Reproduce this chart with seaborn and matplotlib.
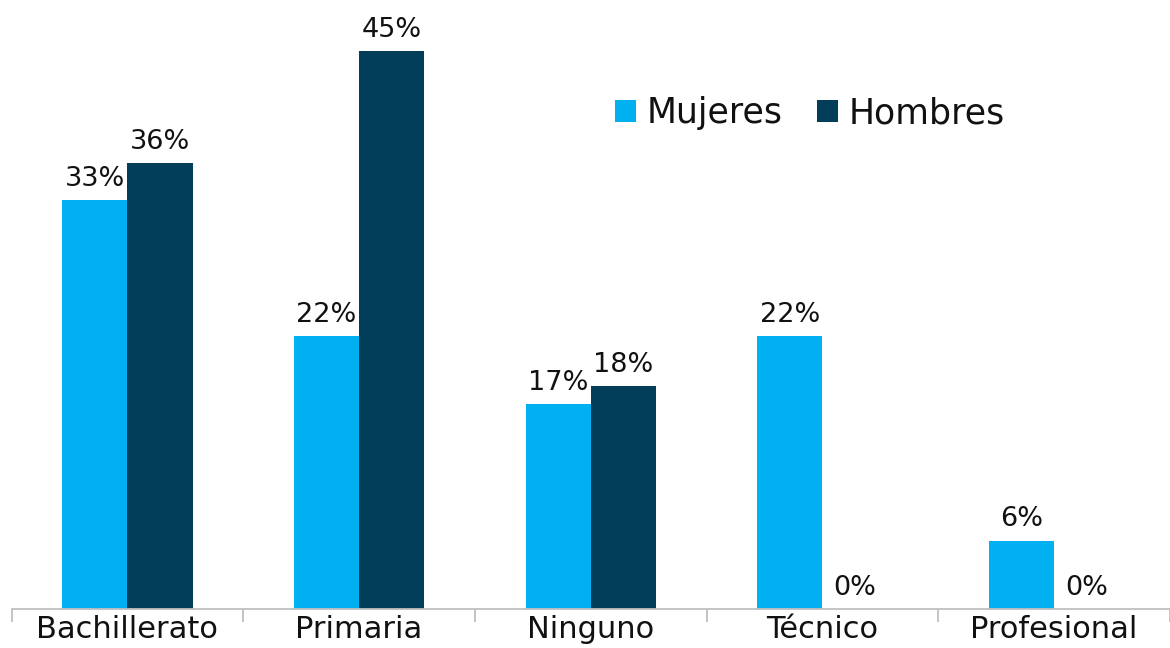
import pandas as pd
import matplotlib
matplotlib.use("Agg")
import matplotlib.pyplot as plt
import seaborn as sns

sns.set_style("white")
plt.rcParams["font.family"] = ["DejaVu Sans"]

# data (shares in %)
categorias = ["Bachillerato", "Primaria", "Ninguno", "Técnico", "Profesional"]
mujeres = [33.33, 22.22, 16.67, 22.22, 5.56]
hombres = [36.36, 45.45, 18.18, 0.0, 0.0]
series = ["Mujeres", "Hombres"]
colores = ["#00B0F0", "#023D5A"]

df = pd.DataFrame({
    "categoria": categorias * 2,
    "valor": mujeres + hombres,
    "sexo": [series[0]] * len(categorias) + [series[1]] * len(categorias),
})

fig = plt.figure(figsize=(11.7, 6.48), dpi=100)
ax = fig.add_axes([11.5 / 1170, 39 / 648, 1158.5 / 1170, 609 / 648])

sns.barplot(data=df, x="categoria", y="valor", hue="sexo", order=categorias,
            hue_order=series, palette=colores, width=0.563, gap=0,
            saturation=1, linewidth=0, edgecolor="none", ax=ax, legend=True)

for cont in ax.containers:
    ax.bar_label(cont, labels=[f"{v:.0f}%" for v in cont.datavalues],
                 padding=6, fontsize=19.5, color="#111111")

ax.set_xlim(-0.5, -0.5 + 1158.5 / 233)
ax.set_ylim(0, 609 / 12.27)
ax.set_xlabel("")
ax.set_ylabel("")
ax.set_yticks([])

for s in ["top", "right", "left"]:
    ax.spines[s].set_visible(False)
ax.spines["bottom"].set_color("#BFBFBF")
ax.spines["bottom"].set_linewidth(1.3)

# category labels between tick marks
ax.set_xticks(range(len(categorias)))
ax.set_xticklabels(categorias, fontsize=22, color="#111111")
ax.tick_params(axis="x", which="major", length=0, pad=4)
ax.set_xticks([i - 0.5 for i in range(len(categorias) + 1)], minor=True)
ax.tick_params(axis="x", which="minor", bottom=True, length=9, width=1.3,
               color="#BFBFBF", direction="out")

leg = ax.legend(loc="center left", bbox_to_anchor=(584 / 1170, 1 - 113 / 648),
                bbox_transform=fig.transFigure, ncol=2, frameon=False,
                fontsize=25, handlelength=0.6, handleheight=0.6,
                handletextpad=0.3, columnspacing=1.0)
for t in leg.get_texts():
    t.set_color("#111111")

fig.savefig("out.png", dpi=100)
plt.close(fig)
